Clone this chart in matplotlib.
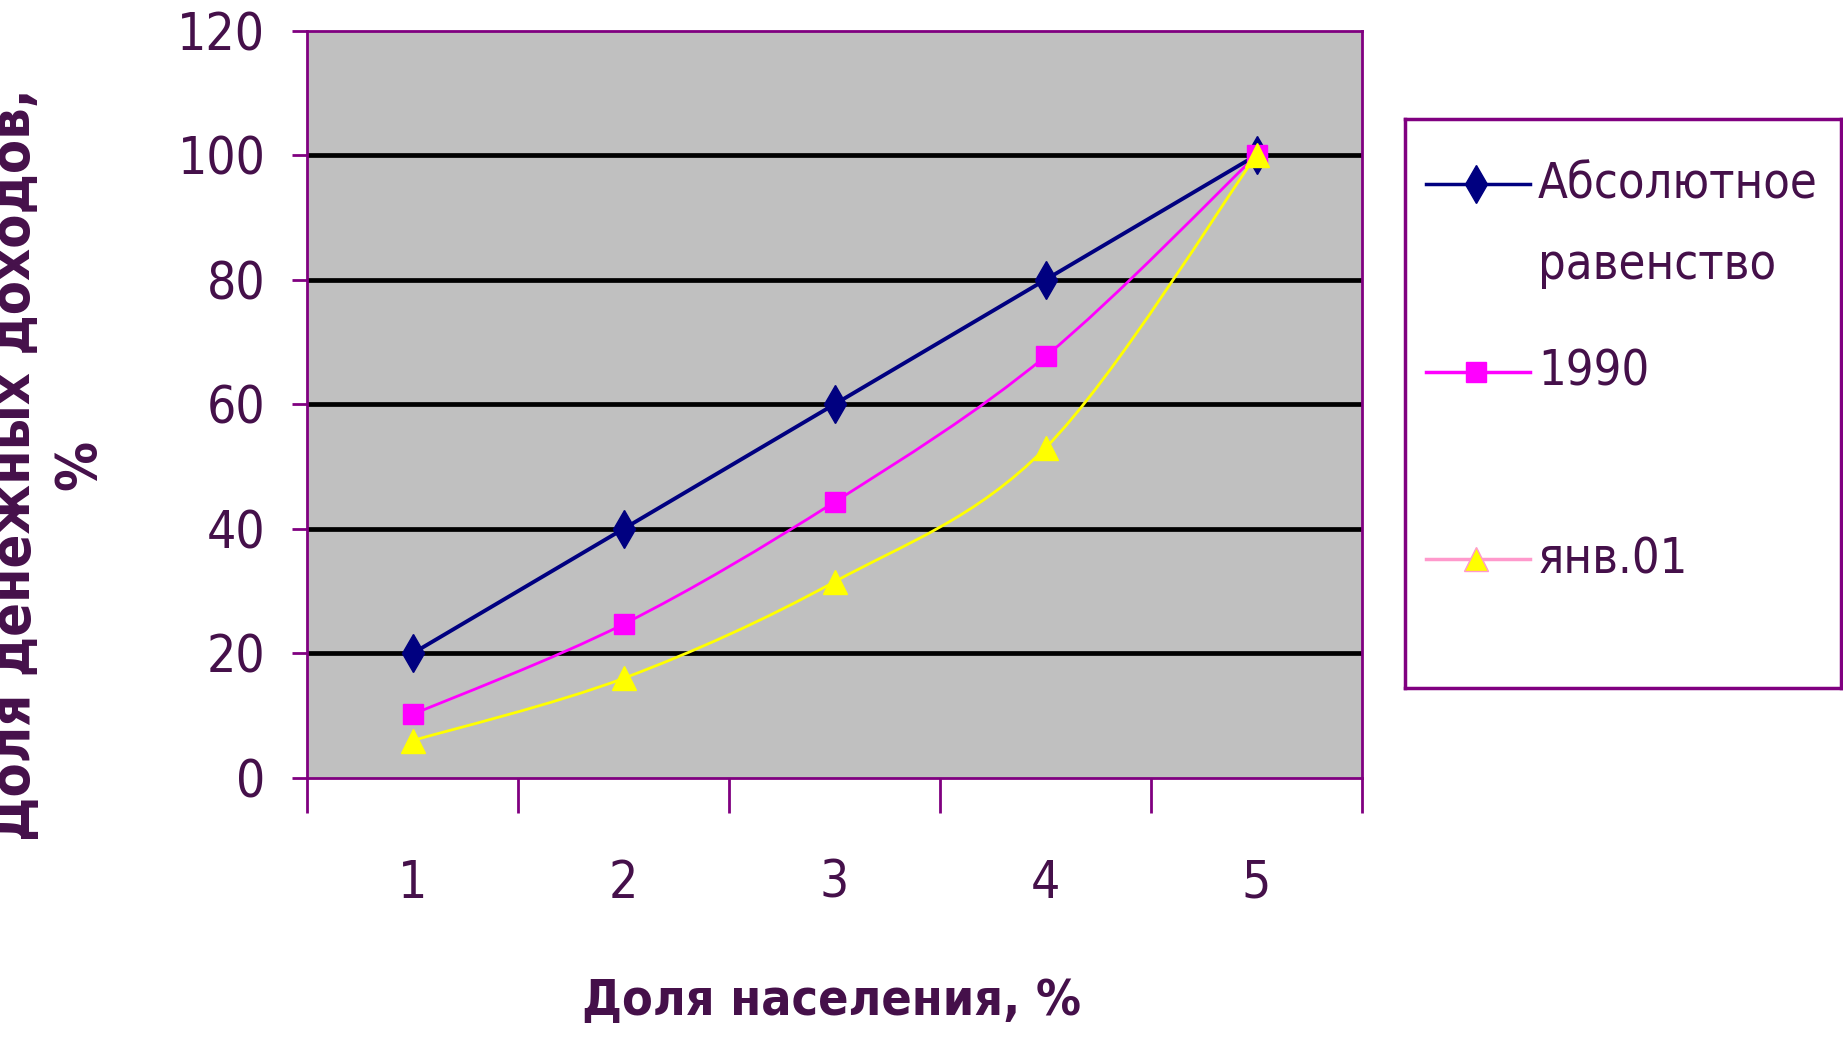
import matplotlib
matplotlib.use('Agg')
from matplotlib import pyplot as plt
from matplotlib.path import Path
from matplotlib.patches import PathPatch
import numpy as np

# Data
categories = [1, 2, 3, 4, 5]
equality = [20, 40, 60, 80, 100]
y1990 = [10.2, 24.7, 44.3, 67.7, 100]
jan01 = [6, 16, 31.5, 53, 100]
series_names = ['Абсолютное\nравенство', '1990', 'янв.01']
y_ticks = [0, 20, 40, 60, 80, 100, 120]

plt.rcParams['font.family'] = ['DejaVu Sans']
plt.rcParams['font.stretch'] = 'condensed'
txt_col = '#45104a'
axis_col = '#800080'


def smooth_path(xs, ys):
    # Excel-like smoothed line: cubic bezier with catmull-rom control points
    pts = np.column_stack([xs, ys]).astype(float)
    verts = [pts[0]]
    codes = [Path.MOVETO]
    n = len(pts)
    for i in range(n - 1):
        p0 = pts[max(i - 1, 0)]
        p1 = pts[i]
        p2 = pts[i + 1]
        p3 = pts[min(i + 2, n - 1)]
        c1 = p1 + (p2 - p0) / 6.0
        c2 = p2 - (p3 - p1) / 6.0
        verts += [c1, c2, p2]
        codes += [Path.CURVE4] * 3
    return Path(verts, codes)


fig = plt.figure(figsize=(18.43, 10.37), dpi=100)
W, H = 1843, 1037
ax = fig.add_axes([307 / W, 1 - 778 / H, (1362 - 307) / W, (778 - 30.6) / H])
ax.set_facecolor('#c0c0c0')

ax.plot(categories, equality, color='#000080', lw=2.8, marker='d', ms=19,
        mfc='#000080', mec='#000080', zorder=4)
ax.add_patch(PathPatch(smooth_path(categories, y1990), fill=False,
                       edgecolor='#ff00ff', lw=2, zorder=3))
ax.plot(categories, y1990, ls='none', marker='s', ms=15, mfc='#ff00ff',
        mec='#ff00ff', zorder=5)
ax.add_patch(PathPatch(smooth_path(categories, jan01), fill=False,
                       edgecolor='#ffff00', lw=2, zorder=3))
ax.plot(categories, jan01, ls='none', marker='^', ms=17, mfc='#ffff00',
        mec='#ffff00', zorder=6)

ax.set_xlim(0.5, 5.5)
ax.set_ylim(0, 120)
ax.set_yticks(y_ticks)
ax.set_yticklabels([str(v) for v in y_ticks])
ax.tick_params(axis='y', length=11, width=2, color=axis_col, pad=19,
               labelsize=37, labelcolor=txt_col)

# category boundaries carry the tick marks, centres carry the labels
ax.set_xticks(np.arange(0.5, 6.0, 1.0))
ax.set_xticklabels([])
ax.set_xticks(categories, minor=True)
ax.set_xticklabels([str(c) for c in categories], minor=True)
ax.tick_params(axis='x', which='major', length=25, width=2, color=axis_col,
               direction='out')
ax.tick_params(axis='x', which='minor', length=0, pad=58, labelsize=37,
               labelcolor=txt_col)

ax.yaxis.grid(True, color='black', lw=3.4)
ax.set_axisbelow(True)
gl = ax.get_ygridlines()
gl[0].set_visible(False)
gl[-1].set_visible(False)
for s in ax.spines.values():
    s.set_color(axis_col)
    s.set_linewidth(2)

fig.text(832 / W, 1 - 1001 / H, 'Доля населения, %', ha='center', va='center',
         fontsize=36, fontweight='bold', color=txt_col)
fig.text(47 / W, 1 - 465 / H, 'Доля денежных доходов,\n%', ha='center',
         va='center', rotation=90, fontsize=40, fontweight='bold',
         color=txt_col, linespacing=1.25)

# legend box drawn by hand to keep Excel's uneven spacing
lax = fig.add_axes([1405 / W, 1 - 688 / H, (1841 - 1405) / W, (688 - 119) / H])
lax.set_xlim(0, 1)
lax.set_ylim(0, 1)
lax.set_xticks([])
lax.set_yticks([])
lax.set_facecolor('white')
for s in lax.spines.values():
    s.set_color(axis_col)
    s.set_linewidth(2.5)

rows = [0.885, 0.556, 0.226]
styles = [('#000080', 'd', '#000080', '#000080', 19),
          ('#ff00ff', 's', '#ff00ff', '#ff00ff', 15),
          ('#ff99cc', '^', '#ffff00', '#ff99cc', 17)]
for yy, name, (lc, mk, mf, me, ms) in zip(rows, series_names, styles):
    lax.plot([0.048, 0.287], [yy, yy], color=lc, lw=2.5)
    lax.plot([0.163], [yy], marker=mk, ms=ms, mfc=mf, mec=me, ls='none')
    lax.text(0.305, yy, name.split('\n')[0], ha='left', va='center',
             fontsize=35, color=txt_col)
    if '\n' in name:
        lax.text(0.305, yy - 0.141, name.split('\n')[1], ha='left',
                 va='center', fontsize=35, color=txt_col)

fig.savefig('out.png', dpi=100)
